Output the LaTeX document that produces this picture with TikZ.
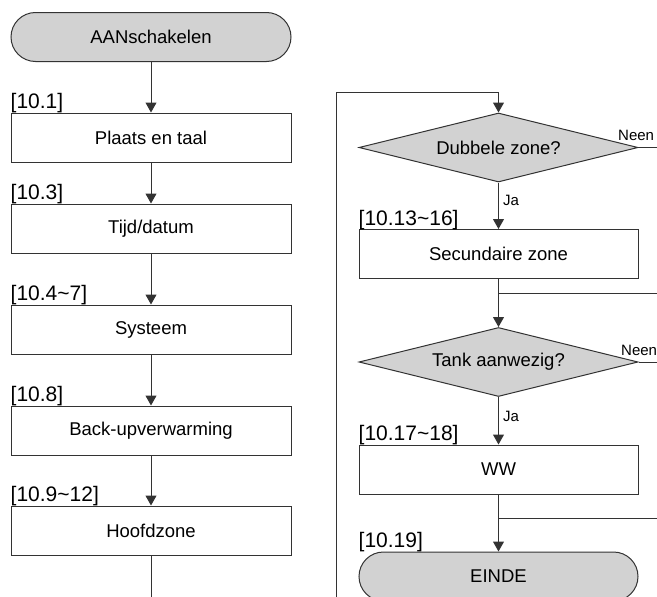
\documentclass[tikz,border=0pt]{standalone}
\usepackage{fontspec}
\setmainfont{Liberation Sans}
\usetikzlibrary{arrows.meta,shapes.geometric}
\definecolor{flowline}{HTML}{333333}
\definecolor{flowfill}{HTML}{D2D2D2}

\tikzset{
  stepbox/.style={draw=flowline, line width=1pt, minimum width=280pt, minimum height=49pt,
    inner sep=0pt, font=\fontsize{18.5}{20}\selectfont},
  termbox/.style={stepbox, fill=flowfill, rounded corners=24.5pt},
  decision/.style={draw=flowline, fill=flowfill, line width=1pt, diamond, aspect=4.04,
    inner sep=0pt, minimum width=279pt, minimum height=69pt, font=\fontsize{18.5}{20}\selectfont},
  ref/.style={anchor=base west, inner sep=0pt, font=\fontsize{21}{23}\selectfont},
  answer/.style={anchor=base west, inner sep=0pt, font=\fontsize{15}{16}\selectfont},
  flow/.style={draw=flowline, line width=1pt},
  flowarrow/.style={flow, -{Triangle[width=11pt,length=10pt]}},
}

\begin{document}
\begin{tikzpicture}[x=1pt, y=-1pt]
\useasboundingbox (0,0) rectangle (657,597);
\clip (0,0) rectangle (657,597);

% === Left column: start-up steps ===
\node[termbox] (start) at (151,37) {AANschakelen};
\node[stepbox] (plaats) at (151,137.5) {Plaats en taal};
\node[stepbox] (tijd) at (151,228.5) {Tijd/datum};
\node[stepbox] (systeem) at (151,329.5) {Systeem};
\node[stepbox] (backup) at (151,430.5) {Back-upverwarming};
\node[stepbox] (hoofd) at (151,530.5) {Hoofdzone};

\node[ref] (ref1) at ([yshift=4pt]plaats.north west) {[10.1]};
\node[ref] (ref3) at ([yshift=4pt]tijd.north west) {[10.3]};
\node[ref] (ref4) at ([yshift=4pt]systeem.north west) {[10.4\textasciitilde 7]};
\node[ref] (ref8) at ([yshift=4pt]backup.north west) {[10.8]};
\node[ref] (ref9) at ([yshift=4pt]hoofd.north west) {[10.9\textasciitilde 12]};

\draw[flowarrow] (start) -- (plaats);
\draw[flowarrow] (plaats) -- (tijd);
\draw[flowarrow] (tijd) -- (systeem);
\draw[flowarrow] (systeem) -- (backup);
\draw[flowarrow] (backup) -- (hoofd);
\coordinate (leftout) at (151,610);
\draw[flow] (hoofd) -- (leftout);

% === Right column: zones, tank, end ===
\node[decision] (dubbel) at (498.5,147.5) {Dubbele zone?};
\node[stepbox, minimum width=279pt] (secund) at (498.5,254) {Secundaire zone};
\node[decision] (tank) at (498.5,362) {Tank aanwezig?};
\node[stepbox, minimum width=279pt] (ww) at (498.5,469.5) {WW};
\node[termbox, minimum width=279pt] (einde) at (498.5,576.5) {EINDE};

\node[ref] (ref13) at ([yshift=4pt]secund.north west) {[10.13\textasciitilde 16]};
\node[ref] (ref17) at ([yshift=4pt]ww.north west) {[10.17\textasciitilde 18]};
\node[ref] (ref19) at ([yshift=4pt]einde.north west) {[10.19]};

% loop coming in from the left column
\coordinate (loopin) at (336,610);
\coordinate (looptop) at (336,92);
\draw[flowarrow] (loopin) -- (looptop) -- (dubbel.north |- looptop) -- (dubbel.north);

\draw[flowarrow] (dubbel) -- (secund);
\node[answer] (ja1) at (503,205) {Ja};
\coordinate (neen1out) at (670,147.5);
\draw[flow] (dubbel.east) -- (neen1out);
\node[answer] (neen1) at (618,140) {Neen};

\draw[flowarrow] (secund) -- (tank);
\coordinate (merge1) at (498.5,293);
\coordinate (merge1in) at (670,293);
\draw[flow] (merge1in) -- (merge1);

\draw[flowarrow] (tank) -- (ww);
\node[answer] (ja2) at (503,421) {Ja};
\coordinate (neen2out) at (670,362);
\draw[flow] (tank.east) -- (neen2out);
\node[answer] (neen2) at (621,355) {Neen};

\draw[flowarrow] (ww) -- (einde);
\coordinate (merge2) at (498.5,518);
\coordinate (merge2in) at (670,518);
\draw[flow] (merge2in) -- (merge2);
\end{tikzpicture}
\end{document}
